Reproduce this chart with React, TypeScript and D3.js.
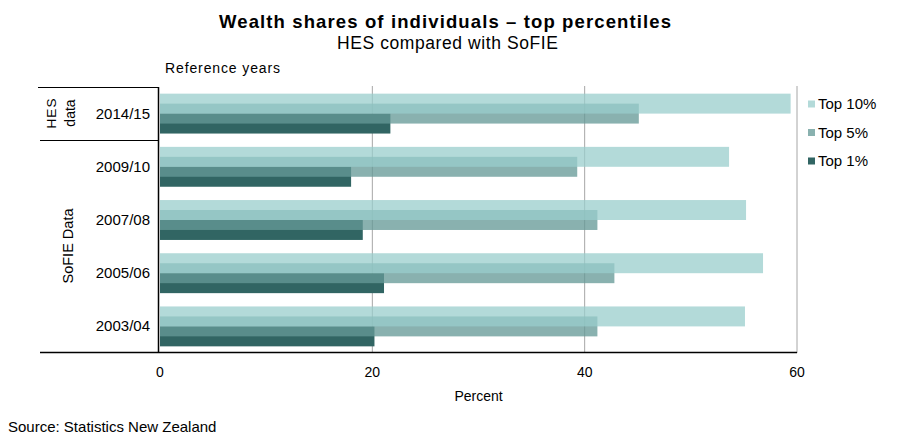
import React from 'react';
import * as d3 from 'd3';

const categories = ['2014/15', '2009/10', '2007/08', '2005/06', '2003/04'];
const top10 = [59.4, 53.6, 55.2, 56.8, 55.1];
const top5 = [45.1, 39.3, 41.2, 42.8, 41.2];
const top1 = [21.7, 18.0, 19.1, 21.1, 20.2];
const seriesNames = ['Top 10%', 'Top 5%', 'Top 1%'];
const xTicks = [0, 20, 40, 60];

const W = 903;
const H = 442;
const FONT = "Arial, 'Liberation Sans', sans-serif";

const seriesStyle = [
  { fill: 'rgb(153,206,204)', opacity: 0.745 },
  { fill: 'rgb(102,153,151)', opacity: 0.77 },
  { fill: '#316563', opacity: 1 },
];

export default function App() {
  const x = d3.scaleLinear().domain([0, 60]).range([160, 797]);
  const y = d3
    .scaleBand<string>()
    .domain(categories)
    .range([87, 353])
    .paddingInner(0.25)
    .paddingOuter(0.125);
  const bw = y.bandwidth();
  const series = [top10, top5, top1];
  const drawOrder = [2, 1, 0];

  return (
    <svg
      width={W}
      height={H}
      style={{ position: 'absolute', left: 0, top: 0, background: '#fff' }}
      fontFamily={FONT}
    >
      <rect x={0} y={0} width={W} height={H} fill="#fff" />
      <text x={219} y={28} fontSize={18.5} fontWeight="bold" fill="#000" textLength={452} lengthAdjust="spacing">
        Wealth shares of individuals – top percentiles
      </text>
      <text x={337} y={48.5} fontSize={17.5} fill="#000" textLength={221} lengthAdjust="spacing">
        HES compared with SoFIE
      </text>
      <text x={165} y={72.5} fontSize={14} fill="#000" textLength={115} lengthAdjust="spacing">
        Reference years
      </text>

      {/* gridlines */}
      {xTicks.filter((t) => t > 0).map((t) => (
        <line key={t} x1={x(t)} x2={x(t)} y1={86} y2={353} stroke="#a6a6a6" strokeWidth={1} />
      ))}

      {/* bars */}
      {drawOrder.map((si) => (
        <g key={si}>
          {categories.map((c, ci) => (
            <rect
              key={c}
              x={x(0)}
              y={(y(c) as number) + (si * bw) / 4}
              width={x(series[si][ci]) - x(0)}
              height={bw / 2}
              fill={seriesStyle[si].fill}
              fillOpacity={seriesStyle[si].opacity}
            />
          ))}
        </g>
      ))}

      {/* axes */}
      <line x1={158.5} x2={158.5} y1={87} y2={353} stroke="#000" strokeWidth={1.5} />
      <line x1={40} x2={797} y1={352.5} y2={352.5} stroke="#000" strokeWidth={1.5} />
      <line x1={38} x2={158.5} y1={87.5} y2={87.5} stroke="#000" strokeWidth={1.2} />
      <line x1={40} x2={158.5} y1={140.5} y2={140.5} stroke="#000" strokeWidth={1.2} />

      {/* category labels */}
      {categories.map((c) => (
        <text
          key={c}
          x={150}
          y={(y(c) as number) + bw / 2 + 5}
          textAnchor="end"
          fontSize={15}
          fill="#000"
        >
          {c}
        </text>
      ))}

      {/* group labels */}
      <text transform="translate(56,113) rotate(-90)" textAnchor="middle" fontSize={13.5} fill="#000" letterSpacing={1}>
        HES
      </text>
      <text transform="translate(75,113) rotate(-90)" textAnchor="middle" fontSize={14} fill="#000">
        data
      </text>
      <text transform="translate(73,246) rotate(-90)" textAnchor="middle" fontSize={14.5} fill="#000">
        SoFIE Data
      </text>

      {/* x ticks */}
      {xTicks.map((t) => (
        <text key={t} x={x(t)} y={377} textAnchor="middle" fontSize={14} fill="#000">
          {t}
        </text>
      ))}
      <text x={(x(0) + x(60)) / 2} y={401} textAnchor="middle" fontSize={14} fill="#000">
        Percent
      </text>

      {/* legend */}
      {seriesNames.map((n, i) => (
        <g key={n} transform={`translate(808,${104 + i * 28.5})`}>
          <rect
            x={0}
            y={-3.5}
            width={7}
            height={7}
            fill={seriesStyle[i].fill}
            fillOpacity={seriesStyle[i].opacity}
          />
          <text x={10} y={5} fontSize={15} fill="#000">
            {n}
          </text>
        </g>
      ))}

      <text x={8} y={432} fontSize={15} fill="#000">
        Source: Statistics New Zealand
      </text>
    </svg>
  );
}
